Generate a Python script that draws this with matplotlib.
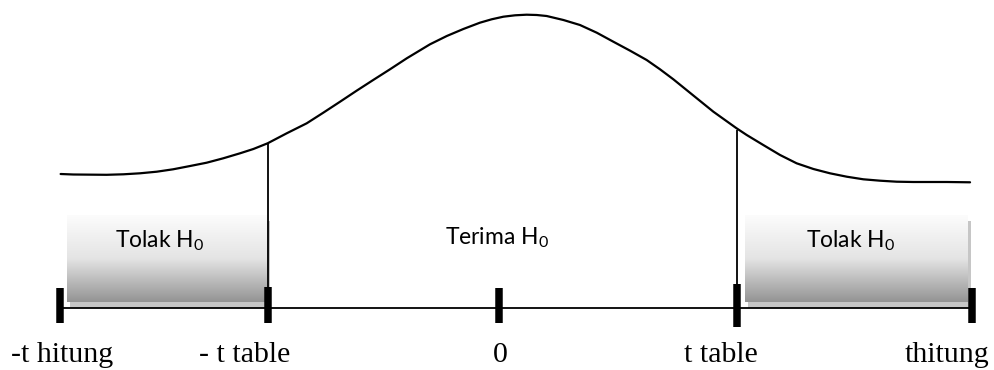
import numpy as np
import matplotlib
matplotlib.use("Agg")
import matplotlib.pyplot as plt
from matplotlib.colors import LinearSegmentedColormap

plt.rcParams["mathtext.fontset"] = "custom"
plt.rcParams["mathtext.rm"] = "Lato"

# === Data ===
tick_pos = [-1.907, -1.004, 0.0, 1.035, 2.057]
tick_labels = ["-t hitung", "- t table", "0", "t table", "thitung"]

curve_x = [-1.906, -1.851, -1.706, -1.633, -1.561, -1.488, -1.417, -1.343, -1.271,
           -1.199, -1.126, -1.068, -1.006, -0.923, -0.836, -0.764, -0.691, -0.619,
           -0.547, -0.474, -0.401, -0.300, -0.227, -0.155, -0.083, -0.032, 0.019,
           0.070, 0.120, 0.164, 0.207, 0.280, 0.352, 0.425, 0.497, 0.570,
           0.642, 0.700, 0.758, 0.860, 0.932, 1.033, 1.077, 1.149, 1.222,
           1.294, 1.367, 1.439, 1.512, 1.584, 1.657, 1.729, 1.801, 1.874,
           1.947, 2.048]
curve_y = [1.34, 1.335, 1.332, 1.337, 1.347, 1.363, 1.387, 1.42, 1.453,
           1.497, 1.547, 1.59, 1.647, 1.747, 1.847, 1.953, 2.063, 2.173,
           2.28, 2.387, 2.497, 2.637, 2.72, 2.79, 2.853, 2.887, 2.913,
           2.927, 2.933, 2.93, 2.92, 2.88, 2.83, 2.753, 2.663, 2.573,
           2.48, 2.387, 2.287, 2.097, 1.963, 1.797, 1.73, 1.63, 1.53,
           1.447, 1.39, 1.347, 1.313, 1.287, 1.273, 1.263, 1.26, 1.26,
           1.26, 1.257]

crit_x = [-1.004, 1.035]
crit_top = [1.65, 1.78]

region_labels = ["Tolak H$_{\\mathrm{0}}$", "Terima H$_{\\mathrm{0}}$", "Tolak H$_{\\mathrm{0}}$"]

# === Plot ===
fig = plt.figure(figsize=(9.95, 3.7), dpi=100, facecolor="white")
ax = fig.add_axes([0, 0, 1, 1])
ax.axis("off")

# reject region boxes (gradient with a soft shadow)
grad_cmap = LinearSegmentedColormap.from_list("box", ["#fcfcfc", "#e4e4e4", "#949494"])
grad = np.linspace(0, 1, 200).reshape(-1, 1)
boxes = [(tick_pos[0] + 0.03, tick_pos[1] - 0.005), (tick_pos[3] + 0.035, tick_pos[4] - 0.018)]
y0, y1 = 0.06, 0.93
for bx0, bx1 in boxes:
    ax.fill_between([bx0 + 0.013, bx1 + 0.013], y0 - 0.055, y1 - 0.055,
                    color="#c6c6c6", lw=0, zorder=1)
    ax.imshow(grad, extent=(bx0, bx1, y0, y1), cmap=grad_cmap, aspect="auto",
              origin="upper", zorder=2)
ax.set_xlim(-2.1696, 2.1565)
ax.set_ylim(-0.62, 3.08)

# curve
ax.plot(curve_x, curve_y, color="black", lw=1.6, zorder=4,
        solid_joinstyle="round", solid_capstyle="round")

# critical value lines
ax.vlines(crit_x, 0, crit_top, color="black", lw=1.3, zorder=4)

# number line + ticks
ax.hlines(0, tick_pos[0], tick_pos[-1], color="black", lw=1.3, zorder=4)
tick_lo = [-0.15, -0.15, -0.15, -0.19, -0.15]
tick_hi = [0.2, 0.21, 0.2, 0.24, 0.2]
ax.vlines(tick_pos, tick_lo, tick_hi, color="black", lw=5.4, zorder=5)

label_shift = [0.007, -0.104, 0.004, -0.07, -0.109]
for xp, lab, dx in zip(tick_pos, tick_labels, label_shift):
    ax.text(xp + dx, -0.54, lab, ha="center", va="baseline",
            fontsize=21.5, family="Liberation Serif", color="black")

# region texts
text_x = [-1.474, -0.008, 1.528]
text_y = [0.61, 0.64, 0.61]
for tx, ty, lab in zip(text_x, text_y, region_labels):
    ax.text(tx, ty, lab, ha="center", va="baseline", fontsize=16.5,
            family="Lato", color="black", zorder=6)

plt.savefig("out.png", dpi=100, facecolor="white")
